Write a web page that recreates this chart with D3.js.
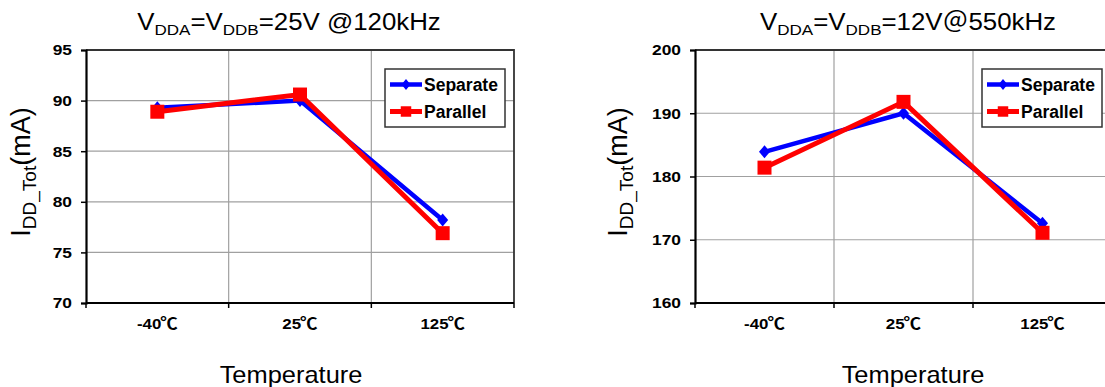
<!DOCTYPE html>
<html><head><meta charset="utf-8">
<script src="https://cdn.jsdelivr.net/npm/d3@7"></script>
<style>
body{margin:0;background:#fff}
svg{display:block}
text{font-family:"Liberation Sans",Arial,"Noto Sans CJK SC",sans-serif;fill:#000}
</style>
</head><body>
<svg id="c" width="1105" height="387"></svg>
<script>
// ---------------- data ----------------
const categories = ["-40℃", "25℃", "125℃"];
const seriesNames = ["Separate", "Parallel"];
const separate25V = [89.3, 90.0, 78.2];
const parallel25V = [88.9, 90.6, 76.9];
const separate12V = [183.9, 190.0, 172.6];
const parallel12V = [181.4, 191.8, 171.1];
const yTicks25V = [70, 75, 80, 85, 90, 95];
const yTicks12V = [160, 170, 180, 190, 200];
const title25V = [["V", 0], ["DDA", 1], ["=V", 0], ["DDB", 1], ["=25V @120kHz", 0]];
const title12V = [["V", 0], ["DDA", 1], ["=V", 0], ["DDB", 1], ["=12V＠550kHz", 0]];
const yLabelParts = [["I", 0], ["DD_Tot", 1], ["(mA)", 0]];
const xLabel = "Temperature";

// ---------------- layout / style ----------------
const svg = d3.select("#c");
const BLUE = "#0000FF", RED = "#FF0000";

const charts = [
  {ys: [separate25V, parallel25V], ticks: yTicks25V, title: title25V,
   x0: 86, x1: 514, y0: 50, y1: 303,
   titleX: 289, yLabX: 30, xLabX: 291, legX: 385},
  {ys: [separate12V, parallel12V], ticks: yTicks12V, title: title12V,
   x0: 695, x1: 1112, y0: 50, y1: 303,
   titleX: 908, yLabX: 627, xLabX: 913, legX: 982}
];

function richText(g, parts, mainSize, subSize, subDy) {
  const t = g.append("text");
  parts.forEach(([s, sub], i) => {
    const prevSub = i > 0 && parts[i - 1][1];
    let dy = 0;
    if (sub && !prevSub) dy = subDy;
    if (!sub && prevSub) dy = -subDy;
    t.append("tspan").attr("dy", dy).style("font-size", (sub ? subSize : mainSize) + "px").text(s);
  });
  return t;
}

function stretch(sel, k) {
  sel.each(function () {
    const L = this.getComputedTextLength();
    this.setAttribute("textLength", L * k);
    this.setAttribute("lengthAdjust", "spacingAndGlyphs");
  });
}

function diamond(w, h) {
  return `M0,${-h / 2}L${w / 2},0L0,${h / 2}L${-w / 2},0Z`;
}

charts.forEach(c => {
  const g = svg.append("g");
  const x = d3.scaleBand().domain(categories).range([c.x0, c.x1]).padding(0);
  const y = d3.scaleLinear().domain([c.ticks[0], c.ticks[c.ticks.length - 1]]).range([c.y1, c.y0]);
  const bounds = d3.range(categories.length + 1).map(i => c.x0 + i * x.step());

  // horizontal grid
  g.append("g").selectAll("line").data(c.ticks.slice(1, -1)).join("line")
    .attr("x1", c.x0).attr("x2", c.x1).attr("y1", d => y(d)).attr("y2", d => y(d))
    .attr("stroke", "#a0a0a0").attr("stroke-width", 1.2);
  // vertical grid
  g.append("g").selectAll("line").data(bounds.slice(1, -1)).join("line")
    .attr("x1", d => d).attr("x2", d => d).attr("y1", c.y0).attr("y2", c.y1)
    .attr("stroke", "#a0a0a0").attr("stroke-width", 1.2);
  // frame top/right
  g.append("path").attr("d", `M${c.x0},${c.y0}H${c.x1}V${c.y1}`)
    .attr("fill", "none").attr("stroke", "#333").attr("stroke-width", 1.8);

  // y axis
  const yAxis = d3.axisLeft(y).tickValues(c.ticks).tickSize(5).tickPadding(9);
  const ya = g.append("g").attr("transform", `translate(${c.x0},0)`).call(yAxis);
  ya.select(".domain").attr("stroke", "#000").attr("stroke-width", 2.2);
  ya.selectAll(".tick line").attr("stroke", "#000").attr("stroke-width", 1.5);
  const yt = ya.selectAll(".tick text").style("font-size", "15.5px").style("font-weight", "bold")
    .style("font-family", '"Liberation Sans",Arial,sans-serif');
  stretch(yt, 1.12);

  // x axis: boundary ticks + category labels
  const xa = g.append("g");
  xa.append("line").attr("x1", c.x0).attr("x2", c.x1).attr("y1", c.y1).attr("y2", c.y1)
    .attr("stroke", "#000").attr("stroke-width", 2.2);
  xa.selectAll("line.tk").data(bounds).join("line").attr("class", "tk")
    .attr("x1", d => d).attr("x2", d => d).attr("y1", c.y1).attr("y2", c.y1 + 5)
    .attr("stroke", "#000").attr("stroke-width", 1.5);
  const xt = xa.selectAll("text").data(categories).join("text")
    .attr("x", d => x(d) + x.bandwidth() / 2).attr("y", c.y1 + 26)
    .attr("text-anchor", "middle").style("font-size", "15.5px").style("font-weight", "bold");
  xt.each(function (d) {
    const t = d3.select(this);
    const num = d.replace("℃", "");
    t.append("tspan").text(num);
    t.append("tspan").style("font-family", '"Noto Sans CJK SC","Noto Sans CJK JP",sans-serif')
      .style("font-size", "16px").attr("dx", -1).text("℃");
  });
  stretch(xt, 1.06);

  // series
  const line = d3.line().x((d, i) => x(categories[i]) + x.bandwidth() / 2).y(d => y(d));
  const colors = [BLUE, RED];
  const widths = [4.5, 5];
  c.ys.forEach((vals, si) => {
    g.append("path").datum(vals).attr("d", line).attr("fill", "none")
      .attr("stroke", colors[si]).attr("stroke-width", widths[si]).attr("stroke-linejoin", "miter");
    const m = g.append("g").selectAll("path").data(vals).join("path")
      .attr("transform", (d, i) => `translate(${x(categories[i]) + x.bandwidth() / 2},${y(d)})`)
      .attr("fill", colors[si]);
    if (si === 0) m.attr("d", diamond(11, 13));
    else m.attr("d", d3.symbol(d3.symbolSquare, 196)());
  });

  // legend
  const lg = g.append("g").attr("transform", `translate(${c.legX},69)`);
  lg.append("rect").attr("width", 120).attr("height", 58).attr("fill", "#fff")
    .attr("stroke", "#333").attr("stroke-width", 1.5);
  seriesNames.forEach((name, i) => {
    const cy = 15.5 + i * 27;
    lg.append("line").attr("x1", 5).attr("x2", 37).attr("y1", cy).attr("y2", cy)
      .attr("stroke", colors[i]).attr("stroke-width", widths[i]);
    lg.append("path").attr("transform", `translate(21,${cy})`).attr("fill", colors[i])
      .attr("d", i === 0 ? diamond(9, 11) : d3.symbol(d3.symbolSquare, 110)());
    lg.append("text").attr("x", 39).attr("y", cy + 6).style("font-size", "17.5px")
      .style("font-weight", "bold").text(name);
  });

  // title
  const tg = g.append("g").attr("transform", `translate(${c.titleX},29.5) scale(1.1,1)`);
  richText(tg, c.title, 23.5, 15.5, 5).attr("text-anchor", "middle");

  // y label
  const yg = g.append("g").attr("transform", `translate(${c.yLabX},172) rotate(-90)`);
  richText(yg, yLabelParts, 27, 19, 6).attr("text-anchor", "middle");

  // x label
  const xg = g.append("g").attr("transform", `translate(${c.xLabX},383) scale(1.06,1)`);
  xg.append("text").attr("text-anchor", "middle").style("font-size", "24px").text(xLabel);
});
</script>
</body></html>
